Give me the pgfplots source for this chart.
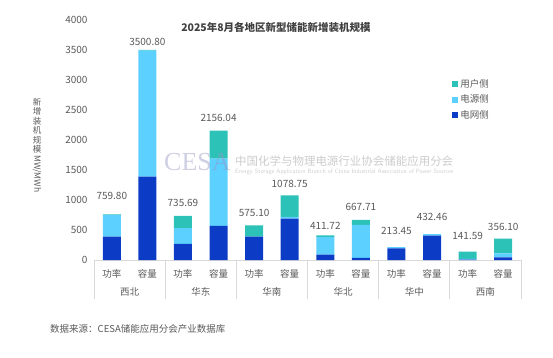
\documentclass[border=0pt]{standalone}
\usepackage{pgfplots}
\usepackage{pgfplotstable}
\pgfplotsset{compat=1.18}
\usepackage{fontspec}
\setmainfont{Noto Sans CJK SC}
\newfontfamily\wmserif{Liberation Serif}
\definecolor{cgrid}{RGB}{12,60,198}
\definecolor{csrc}{RGB}{92,208,255}
\definecolor{cuser}{RGB}{45,194,184}
\definecolor{ctxt}{RGB}{89,89,89}
\definecolor{ctitle}{RGB}{64,64,64}
\definecolor{cline}{RGB}{217,217,217}
\definecolor{cwm}{RGB}{150,150,195}

\pgfplotstableread{
x grid src user
0 390 360 9.8
1 1390 2100 10.8
2 270 260 205.69
3 570 1120 466.04
4 390 0 185.10
5 690 30 358.75
6 90 290 31.72
7 35 550 82.71
8 195 18.45 0
9 405 27.46 0
10 8 12 121.59
11 45 65 246.10
}\datatable

\pgfplotstableread{
x y label
0 1067 759.80
1 3633 3500.80
2 950 735.69
3 2367 2156.04
4 783 575.10
5 1267 1078.75
6 567 411.72
7 883 667.71
8 483 213.45
9 717 432.46
10 400 141.59
11 550 356.10
}\labeltable

\begin{document}
\begin{tikzpicture}
\path[use as bounding box] (0pt,0pt) rectangle (553pt,357pt);

\begin{axis}[
  at={(94pt,97pt)}, anchor=south west,
  width=427pt, height=240pt, scale only axis,
  ybar stacked, bar width=18pt,
  xmin=-0.5, xmax=11.5, ymin=0, ymax=4000,
  ytick={0,500,...,4000},
  xtick={0,...,11},
  xticklabels={功率,容量,功率,容量,功率,容量,功率,容量,功率,容量,功率,容量},
  extra x ticks={-0.5,1.5,3.5,5.5,7.5,9.5,11.5},
  extra x tick labels={},
  extra x tick style={tick align=outside, major tick length=39pt, xtick style={draw=cline, line width=0.8pt}},
  axis x line*=bottom, axis y line*=left,
  x axis line style={draw=cline, line width=0.8pt},
  y axis line style={draw=none},
  xtick style={draw=none}, ytick style={draw=none},
  major tick length=0pt,
  /pgf/number format/assume math mode=true,
  /pgf/number format/1000 sep={},
  ticklabel style={text=ctxt},
  yticklabel style={font=\fontsize{10}{12}\selectfont, anchor=east, xshift=-3pt},
  xticklabel style={font=\fontsize{9.5}{11}\selectfont, anchor=center, yshift=-14pt},
  clip=false,
  legend style={draw=none, fill=none, at={(0.832,0.77)}, anchor=north west,
    font=\fontsize{9.5}{11}\selectfont, text=ctxt, row sep=2pt},
  legend cell align=left,
  reverse legend,
  legend image code/.code={\fill[#1] (0pt,-3pt) rectangle (6pt,3pt);},
]
\addplot[fill=cgrid, draw=none] table[x=x,y=grid] {\datatable};
\addplot[fill=csrc, draw=none] table[x=x,y=src] {\datatable};
\addplot[fill=cuser, draw=none] table[x=x,y=user] {\datatable};
\legend{电网侧,电源侧,用户侧}
\foreach \g/\p in {西北/0.5,华东/2.5,华南/4.5,华北/6.5,华中/8.5,西南/10.5}{
  \edef\tmp{\noexpand\node[text=ctxt, font=\noexpand\fontsize{9.5}{11}\noexpand\selectfont] at (axis cs:\p,0) [yshift=-32pt] {\g};}
  \tmp
}
\end{axis}

% watermark (over the bars, translucent)
\node[text=cwm, opacity=0.45, font=\wmserif\fontsize{26}{26}\selectfont, inner sep=0pt, anchor=west] at (164pt,195pt) {CESA};
\node[text=black, opacity=0.2, inner sep=0pt, anchor=west] at (235pt,196pt) {\resizebox{218pt}{!}{中国化学与物理电源行业协会储能应用分会}};
\node[text=black, opacity=0.2, inner sep=0pt, anchor=west] at (235pt,185pt) {\resizebox{218pt}{!}{\sffamily Energy Storage Application Branch of China Industrial Association of Power Sources}};

\begin{axis}[
  at={(94pt,97pt)}, anchor=south west,
  width=427pt, height=240pt, scale only axis,
  xmin=-0.5, xmax=11.5, ymin=0, ymax=4000,
  hide axis, clip=false,
]
\addplot[only marks, mark=none, nodes near coords, point meta=explicit symbolic,
  nodes near coords style={anchor=center, text=ctxt, font=\fontsize{10}{12}\selectfont}]
  table[x=x, y=y, meta=label] {\labeltable};
\end{axis}

% title
\node[text=ctitle, font=\bfseries\fontsize{10.5}{12}\selectfont] at (276pt,330pt) {2025年8月各地区新型储能新增装机规模};

% y label (vertical)
\node[text=ctxt, anchor=north, inner sep=0pt, font=\fontsize{8.5}{8.5}\selectfont] at (37pt,259pt)
  {\renewcommand{\arraystretch}{0.92}\begin{tabular}{@{}c@{}}新\\增\\装\\机\\规\\模\\[-5pt]\rotatebox{-90}{MW/MWh}\end{tabular}};

% footnote
\node[text=ctxt, font=\fontsize{9.5}{11}\selectfont, anchor=west, inner sep=0pt] at (50pt,28pt) {数据来源：CESA储能应用分会产业数据库};
\end{tikzpicture}
\end{document}
